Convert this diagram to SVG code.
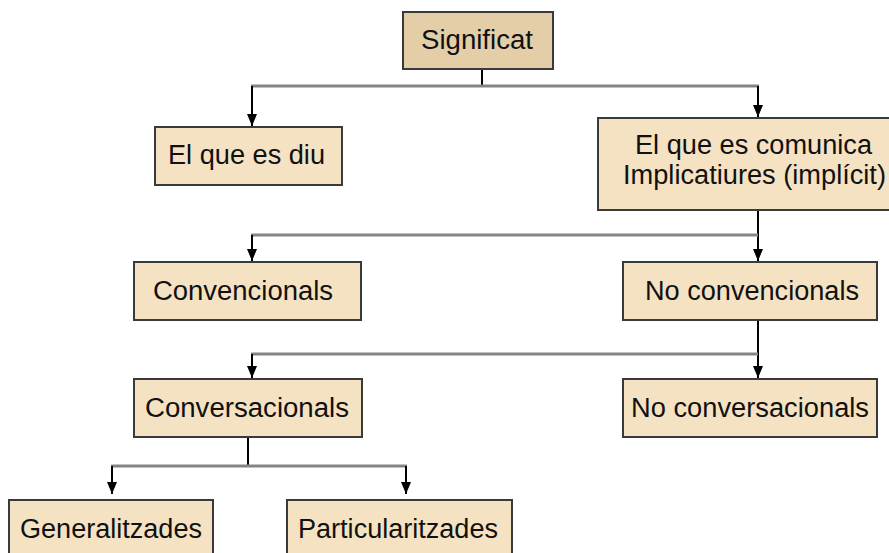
<svg xmlns="http://www.w3.org/2000/svg" width="889" height="553" viewBox="0 0 889 553">
<style>
.box{fill:#f5e2c2;stroke:#3a3a3a;stroke-width:2}
.root{fill:#e3cea8}
.t{font-family:"Liberation Sans",Arial,sans-serif;font-size:27px;fill:#111}
.h{stroke:#858585;stroke-width:3;fill:none}
.v{stroke:#000;stroke-width:2;fill:none}
</style>
<defs>
<marker id="arrd" markerWidth="10" markerHeight="12" refX="5" refY="12" markerUnits="userSpaceOnUse" viewBox="0 0 10 12">
<path d="M0,0 L10,0 L5,12 Z" fill="#000"/>
</marker>
</defs>
<g id="connectors">
<line class="v" x1="482" y1="70" x2="482" y2="86"/>
<line class="h" x1="251" y1="86" x2="759" y2="86"/>
<line class="v" x1="252" y1="86" x2="252" y2="126" marker-end="url(#arrd)"/>
<line class="v" x1="758" y1="86" x2="758" y2="117" marker-end="url(#arrd)"/>
<line class="v" x1="758" y1="210" x2="758" y2="261" marker-end="url(#arrd)"/>
<line class="h" x1="251" y1="235" x2="758" y2="235"/>
<line class="v" x1="252" y1="235" x2="252" y2="261" marker-end="url(#arrd)"/>
<line class="v" x1="758" y1="320" x2="758" y2="378" marker-end="url(#arrd)"/>
<line class="h" x1="251" y1="354" x2="758" y2="354"/>
<line class="v" x1="252" y1="354" x2="252" y2="378" marker-end="url(#arrd)"/>
<line class="v" x1="248" y1="437" x2="248" y2="466"/>
<line class="h" x1="111" y1="466" x2="407" y2="466"/>
<line class="v" x1="112" y1="466" x2="112" y2="494" marker-end="url(#arrd)"/>
<line class="v" x1="406" y1="466" x2="406" y2="494" marker-end="url(#arrd)"/>
</g>
<g id="significat">
<rect class="box root" x="403" y="12" width="150" height="57"/>
<text class="t" x="421" y="49" textLength="112" lengthAdjust="spacingAndGlyphs">Significat</text>
</g>
<g id="diu">
<rect class="box" x="155" y="127" width="187" height="58"/>
<text class="t" x="168" y="164" textLength="157" lengthAdjust="spacingAndGlyphs">El que es diu</text>
</g>
<g id="comunica">
<rect class="box" x="598" y="118" width="300" height="92"/>
<text class="t" x="635" y="154" textLength="237" lengthAdjust="spacingAndGlyphs">El que es comunica</text>
<text class="t" x="623" y="184" textLength="263" lengthAdjust="spacingAndGlyphs">Implicatiures (implícit)</text>
</g>
<g id="convencionals">
<rect class="box" x="134" y="262" width="227" height="58"/>
<text class="t" x="153" y="300" textLength="180" lengthAdjust="spacingAndGlyphs">Convencionals</text>
</g>
<g id="no-convencionals">
<rect class="box" x="623" y="262" width="254" height="58"/>
<text class="t" x="645" y="300" textLength="214" lengthAdjust="spacingAndGlyphs">No convencionals</text>
</g>
<g id="conversacionals">
<rect class="box" x="134" y="379" width="228" height="58"/>
<text class="t" x="145" y="417" textLength="204" lengthAdjust="spacingAndGlyphs">Conversacionals</text>
</g>
<g id="no-conversacionals">
<rect class="box" x="623" y="379" width="254" height="58"/>
<text class="t" x="631" y="417" textLength="238" lengthAdjust="spacingAndGlyphs">No conversacionals</text>
</g>
<g id="generalitzades">
<rect class="box" x="9" y="500" width="204" height="70"/>
<text class="t" x="20" y="538" textLength="182" lengthAdjust="spacingAndGlyphs">Generalitzades</text>
</g>
<g id="particularitzades">
<rect class="box" x="287" y="500" width="225" height="70"/>
<text class="t" x="298" y="538" textLength="200" lengthAdjust="spacingAndGlyphs">Particularitzades</text>
</g>
</svg>
